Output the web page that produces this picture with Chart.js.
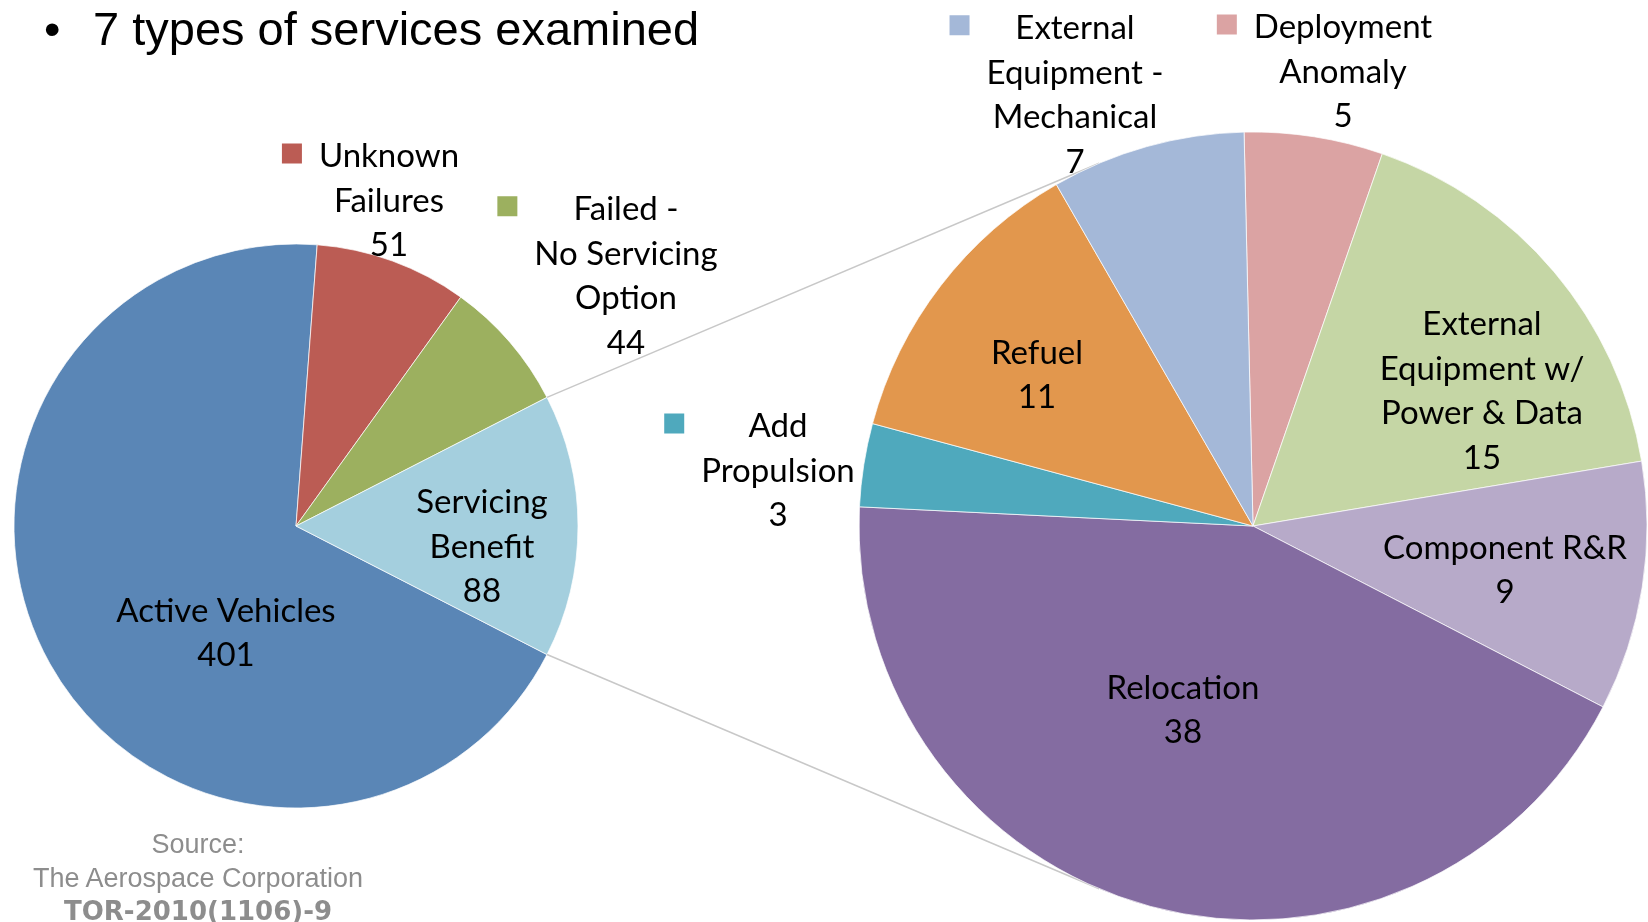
<!DOCTYPE html>
<html>
<head>
<meta charset="utf-8">
<script src="https://cdn.jsdelivr.net/npm/chart.js@4"></script>
<style>
    body { margin: 0; background: #fff; width: 1648px; height: 922px; overflow: hidden; position: relative; }
    canvas { position: absolute; left: 0; top: 0; }
    .txt { position: absolute; white-space: nowrap; }
    .title { font: 47px "Liberation Sans", Arial, sans-serif; line-height: 47px; color: #000; top: 5px; }
    .src { font: 27px "Liberation Sans", Arial, sans-serif; line-height: 34px; color: #8d8d8d; width: 400px; left: -2px; text-align: center; }
    .src.bold { font: bold 26px "DejaVu Sans", sans-serif; line-height: 34px; }
</style>
</head>
<body>
<canvas id="mainPie" width="1648" height="922"></canvas>
<canvas id="detailPie" width="1648" height="922"></canvas>

<div class="txt title" style="left:44px">•</div>
<div class="txt title" style="left:93px">7 types of services examined</div>
<div class="txt src" style="top:827px">Source:</div>
<div class="txt src" style="top:861px">The Aerospace Corporation</div>
<div class="txt src bold" style="top:894px">TOR-2010(1106)-9</div>

<script>
// primary pie (all vehicles)
const mainLabels = ["Active Vehicles", "Unknown\nFailures", "Failed -\nNo Servicing\nOption", "Servicing\nBenefit"];
const mainValues = [401, 51, 44, 88];
const mainColors = ["#5a86b6", "#bb5c54", "#9cb05f", "#a4cfde"];

// secondary pie (split of "Servicing Benefit"), clockwise from the top
const detailLabels = ["Deployment\nAnomaly", "External\nEquipment w/\nPower & Data", "Component R&R", "Relocation",
                      "Add\nPropulsion", "Refuel", "External\nEquipment -\nMechanical"];
const detailValues = [5, 15, 9, 38, 3, 11, 7];
const detailColors = ["#dba3a3", "#c5d6a5", "#b7aac9", "#846ca1", "#4fa9bd", "#e2974d", "#a4b8d8"];

// where each label block sits, relative to its pie centre (px); key = show colour square
const mainPlaces = [
    { dx: -70, dy: 106 },
    { dx: 93, dy: -326, key: true },
    { dx: 330, dy: -251, key: true },
    { dx: 186, dy: 20 }
];
const detailPlaces = [
    { dx: 90, dy: -455, key: true },
    { dx: 229, dy: -136 },
    { dx: 252, dy: 43 },
    { dx: -70, dy: 183 },
    { dx: -475, dy: -56, key: true },
    { dx: -216, dy: -152 },
    { dx: -178, dy: -432, key: true }
];

const LABEL_FONT = '33px Lato, "Noto Sans", sans-serif';
const LINE_H = 44.5;
const CAP = 23.6;

const sliceLabels = {
    id: "sliceLabels",
    afterDatasetsDraw(chart, args, opts) {
        const ctx = chart.ctx;
        const ds = chart.data.datasets[0];
        const meta = chart.getDatasetMeta(0);
        ctx.save();
        ctx.font = LABEL_FONT;
        ctx.textAlign = "center";
        ctx.textBaseline = "alphabetic";
        meta.data.forEach((arc, i) => {
            const place = opts.places[i];
            const lines = chart.data.labels[i].split("\n").concat(String(ds.data[i]));
            const cx = arc.x + place.dx;
            const top = arc.y + place.dy - (lines.length - 1) * LINE_H / 2;
            ctx.fillStyle = "#000";
            lines.forEach((s, k) => ctx.fillText(s, cx, top + k * LINE_H + CAP / 2));
            if (place.key) {
                const w = Math.max(...lines.map(s => ctx.measureText(s).width));
                ctx.fillStyle = ds.backgroundColor[i];
                ctx.fillRect(cx - w / 2 - 17 - 20, top - 12, 20, 20);
            }
        });
        ctx.restore();
    }
};

// grey lines from the split slice to the secondary pie (tangents)
const connectors = {
    id: "connectors",
    beforeDatasetsDraw(chart) {
        const main = Chart.getChart("mainPie");
        if (!main) return;
        const src = main.getDatasetMeta(0).data[3];
        const dst = chart.getDatasetMeta(0).data[0];
        const ctx = chart.ctx;
        ctx.save();
        ctx.strokeStyle = "#c8c8c8";
        ctx.lineWidth = 1.5;
        [[src.startAngle, -1], [src.endAngle, 1]].forEach(([a, side]) => {
            const px = src.x + src.outerRadius * Math.cos(a);
            const py = src.y + src.outerRadius * Math.sin(a);
            const dx = dst.x - px, dy = dst.y - py;
            const d = Math.hypot(dx, dy);
            const phi = Math.atan2(dy, dx) + side * Math.asin(dst.outerRadius / d);
            const len = Math.sqrt(d * d - dst.outerRadius * dst.outerRadius);
            ctx.beginPath();
            ctx.moveTo(px, py);
            ctx.lineTo(px + len * Math.cos(phi), py + len * Math.sin(phi));
            ctx.stroke();
        });
        ctx.restore();
    }
};

function pieOptions(radius, rotation, padding, places) {
    return {
        responsive: false,
        animation: false,
        events: [],
        radius: radius,
        rotation: rotation,
        layout: { padding: padding },
        plugins: {
            legend: { display: false },
            tooltip: { enabled: false },
            sliceLabels: { places: places }
        }
    };
}

new Chart(document.getElementById("mainPie").getContext("2d"), {
    type: "pie",
    data: {
        labels: mainLabels,
        datasets: [{
            data: mainValues,
            backgroundColor: mainColors,
            borderColor: "rgba(255,255,255,0.7)",
            borderWidth: 1,
            hoverOffset: 0
        }]
    },
    options: pieOptions(282, 117.12, { left: 0, right: 1056, top: 130, bottom: 0 }, mainPlaces),
    plugins: [sliceLabels]
});

new Chart(document.getElementById("detailPie").getContext("2d"), {
    type: "pie",
    data: {
        labels: detailLabels,
        datasets: [{
            data: detailValues,
            backgroundColor: detailColors,
            borderColor: "rgba(255,255,255,0.7)",
            borderWidth: 1,
            hoverOffset: 0
        }]
    },
    options: pieOptions(394, -1.3, { left: 858, right: 0, top: 130, bottom: 0 }, detailPlaces),
    plugins: [sliceLabels, connectors]
});
</script>
</body>
</html>
